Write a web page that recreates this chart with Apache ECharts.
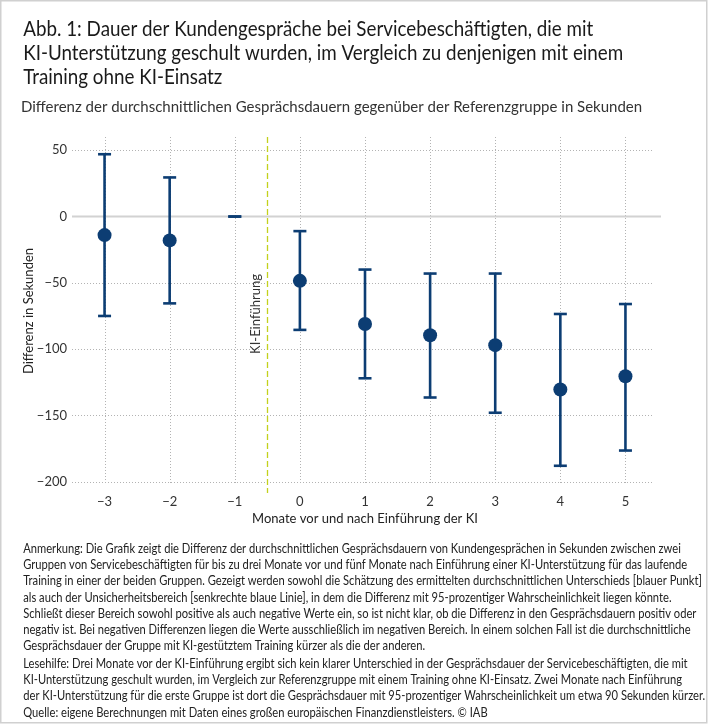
<!DOCTYPE html>
<html>
<head>
<meta charset="utf-8">
<script src="https://cdn.jsdelivr.net/npm/echarts@6/dist/echarts.min.js"></script>
<style>
html,body{margin:0;padding:0;background:#fff;}
#chart{width:710px;height:725px;}
</style>
</head>
<body>
<div id="chart"></div>
<script>
// ---------------- data ----------------
const months = [-3, -2, -1, 0, 1, 2, 3, 4, 5];
const estimates = [-14, -18, null, -48.5, -81, -89.5, -97, -130.5, -120.5];
const lowerBounds = [-75, -65.5, 0, -85.5, -122, -136.5, -148, -188, -176.5];
const upperBounds = [47, 29.5, 0, -11, -40, -43, -43, -73.5, -66];
const yTicks = [-200, -150, -100, -50, 0, 50];
const xTicks = [-3, -2, -1, 0, 1, 2, 3, 4, 5];
const introductionMonth = -0.5;
const introductionLabel = 'KI-Einführung';

const titleLines = [
  'Abb. 1: Dauer der Kundengespräche bei Servicebeschäftigten, die mit',
  'KI-Unterstützung geschult wurden, im Vergleich zu denjenigen mit einem',
  'Training ohne KI-Einsatz'
];
const subtitle = 'Differenz der durchschnittlichen Gesprächsdauern gegenüber der Referenzgruppe in Sekunden';
const yAxisTitle = 'Differenz in Sekunden';
const xAxisTitle = 'Monate vor und nach Einführung der KI';
const noteLines = [
  'Anmerkung: Die Grafik zeigt die Differenz der durchschnittlichen Gesprächsdauern von Kundengesprächen in Sekunden zwischen zwei',
  'Gruppen von Servicebeschäftigten für bis zu drei Monate vor und fünf Monate nach Einführung einer KI-Unterstützung für das laufende',
  'Training in einer der beiden Gruppen. Gezeigt werden sowohl die Schätzung des ermittelten durchschnittlichen Unterschieds [blauer Punkt]',
  'als auch der Unsicherheitsbereich [senkrechte blaue Linie], in dem die Differenz mit 95-prozentiger Wahrscheinlichkeit liegen könnte.',
  'Schließt dieser Bereich sowohl positive als auch negative Werte ein, so ist nicht klar, ob die Differenz in den Gesprächsdauern positiv oder',
  'negativ ist. Bei negativen Differenzen liegen die Werte ausschließlich im negativen Bereich. In einem solchen Fall ist die durchschnittliche',
  'Gesprächsdauer der Gruppe mit KI-gestütztem Training kürzer als die der anderen.'
];
const readingLines = [
  'Lesehilfe: Drei Monate vor der KI-Einführung ergibt sich kein klarer Unterschied in der Gesprächsdauer der Servicebeschäftigten, die mit',
  'KI-Unterstützung geschult wurden, im Vergleich zur Referenzgruppe mit einem Training ohne KI-Einsatz. Zwei Monate nach Einführung',
  'der KI-Unterstützung für die erste Gruppe ist dort die Gesprächsdauer mit 95-prozentiger Wahrscheinlichkeit um etwa 90 Sekunden kürzer.'
];
const sourceLine = 'Quelle: eigene Berechnungen mit Daten eines großen europäischen Finanzdienstleisters. © IAB';

// ---------------- layout helpers ----------------
const FONT = 'Lato';
const BLUE = '#0c3d73';
const measureCtx = document.createElement('canvas').getContext('2d');
function measure(text, size) {
  measureCtx.font = size + 'px ' + FONT;
  return measureCtx.measureText(text).width;
}
function fitScale(lines, size, maxWidth) {
  const w = Math.max.apply(null, lines.map(t => measure(t, size)));
  return Math.min(1, maxWidth / w);
}
function textBlock(lines, x, y0, step, size, sx, color, extra) {
  return lines.map((t, i) => ({
    type: 'text', x: x, y: y0 + i * step + (extra ? extra(i) : 0),
    scaleX: sx, originX: x, originY: 0, silent: true,
    style: { text: t, fontFamily: FONT, fontSize: size, fill: color, verticalAlign: 'middle', align: 'left' }
  }));
}
const fmt = v => (v < 0 ? '\u2212' + Math.abs(v) : String(v));

const titleScale = fitScale(titleLines, 21, 600);
const subScale = fitScale([subtitle], 15, 622);
const allNotes = noteLines.concat(readingLines).concat([sourceLine]);
const noteScale = fitScale(allNotes, 12.5, 682);

const graphics = [
  { type: 'rect', shape: { x: 0.75, y: 0.75, width: 706, height: 722 }, style: { fill: 'none', stroke: '#d0d0d0', lineWidth: 1.5 }, silent: true }
]
  .concat(textBlock(titleLines, 21, 29, 24, 21, titleScale, '#1a1a1a'))
  .concat(textBlock([subtitle], 21, 107, 0, 15, subScale, '#333'))
  .concat(textBlock(noteLines.concat(readingLines), 21, 549, 16.2, 12.5, noteScale, '#222', i => (i >= 7 ? 1.5 : 0)))
  .concat(textBlock([sourceLine], 21, 713, 0, 12.5, noteScale, '#222'));

const chart = echarts.init(document.getElementById('chart'), null, { renderer: 'canvas' });
chart.setOption({
  animation: false,
  backgroundColor: '#fff',
  textStyle: { fontFamily: FONT },
  graphic: graphics,
  grid: { left: 72, right: 52, top: 137, bottom: 240, containLabel: false },
  xAxis: {
    type: 'value', min: -3.5, max: 5.5, interval: 0.5,
    axisLine: { show: false }, axisTick: { show: false }, splitLine: { show: false },
    axisLabel: {
      color: '#333', fontSize: 13, margin: 10, fontFamily: FONT,
      formatter: v => (xTicks.indexOf(v) >= 0 ? fmt(v) : '')
    },
    name: xAxisTitle, nameLocation: 'middle', nameGap: 27, nameMoveOverlap: false,
    nameTextStyle: { color: '#222', fontSize: 13, fontFamily: FONT }
  },
  yAxis: {
    type: 'value', min: -202.5, max: 60, interval: 2.5,
    axisLine: { show: false }, axisTick: { show: false }, splitLine: { show: false },
    axisLabel: {
      color: '#333', fontSize: 13, margin: 5, fontFamily: FONT,
      formatter: v => (yTicks.indexOf(v) >= 0 ? fmt(v) : '')
    },
    name: yAxisTitle, nameLocation: 'middle', nameRotate: 90, nameGap: 37, nameMoveOverlap: false,
    nameTextStyle: { color: '#222', fontSize: 13, fontFamily: FONT }
  },
  series: [
    {
      // grid lines, zero line and introduction marker, drawn from the tick arrays via the axes
      type: 'custom', z: 1, silent: true,
      data: [[0, 0]],
      renderItem: function (params, api) {
        const cs = params.coordSys;
        const top = cs.y, bottom = cs.y + cs.height, left = cs.x, right = cs.x + cs.width;
        const dotted = { stroke: '#b3b3b3', lineWidth: 1, lineDash: [1, 2] };
        const children = [];
        yTicks.filter(v => v !== 0).forEach(v => {
          const y = Math.round(api.coord([0, v])[1]) + 0.5;
          children.push({ type: 'line', shape: { x1: left, y1: y, x2: right - 5, y2: y }, style: dotted });
        });
        xTicks.forEach(v => {
          const x = Math.round(api.coord([v, 0])[0]) + 0.5;
          children.push({ type: 'line', shape: { x1: x, y1: top, x2: x, y2: bottom }, style: dotted });
        });
        const y0 = api.coord([0, 0])[1];
        children.push({ type: 'line', shape: { x1: left, y1: y0, x2: right + 3, y2: y0 }, style: { stroke: '#d2d2d2', lineWidth: 2 } });
        const xi = Math.round(api.coord([introductionMonth, 0])[0]) + 0.5;
        children.push({ type: 'line', z2: 5, shape: { x1: xi, y1: top, x2: xi, y2: bottom + 8 }, style: { stroke: '#c3d11c', lineWidth: 1.3, lineDash: [6, 3] } });
        children.push({
          type: 'text', x: xi - 12, y: (top + bottom) / 2 + 3, rotation: Math.PI / 2,
          style: { text: introductionLabel, fontFamily: FONT, fontSize: 13, fill: '#333', align: 'center', verticalAlign: 'middle' }
        });
        return { type: 'group', children: children };
      }
    },
    {
      type: 'custom', z: 3,
      data: months.map((m, i) => [m, lowerBounds[i], upperBounds[i]]),
      renderItem: function (params, api) {
        const x = api.value(0);
        const lo = api.coord([x, api.value(1)]);
        const hi = api.coord([x, api.value(2)]);
        const hw = 6.5;
        const st = () => ({ stroke: BLUE, lineWidth: 2.6 });
        return {
          type: 'group', children: [
            { type: 'line', shape: { x1: lo[0], y1: lo[1], x2: hi[0], y2: hi[1] }, style: st() },
            { type: 'line', shape: { x1: lo[0] - hw, y1: lo[1], x2: lo[0] + hw, y2: lo[1] }, style: st() },
            { type: 'line', shape: { x1: hi[0] - hw, y1: hi[1], x2: hi[0] + hw, y2: hi[1] }, style: st() }
          ]
        };
      }
    },
    {
      type: 'scatter', z: 4, symbol: 'circle', symbolSize: 14,
      itemStyle: { color: BLUE, opacity: 1 },
      data: months.map((m, i) => [m, estimates[i]]).filter(d => d[1] !== null)
    }
  ]
});
</script>
</body>
</html>
